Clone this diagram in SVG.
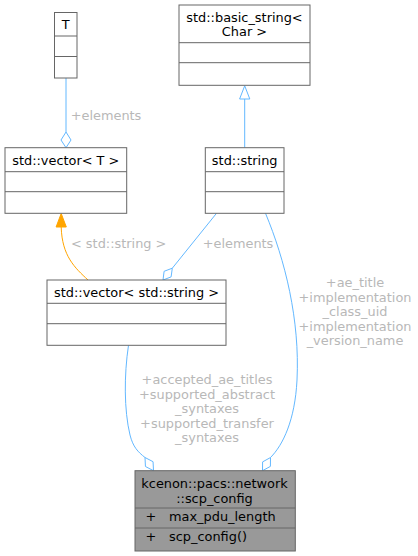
<svg xmlns="http://www.w3.org/2000/svg" width="418" height="556" viewBox="0 0 418 556">
<style>
text{font-family:"DejaVu Sans",sans-serif;font-size:12.9px;fill:#000}
.box{fill:#fff;stroke:#666;stroke-width:1}
.hl{fill:#999;stroke:#666;stroke-width:1}
.div{stroke:#666;stroke-width:1}
.c{text-anchor:middle}
.e{fill:none;stroke:#63b8ff;stroke-width:1}
.o{fill:none;stroke:#ffa500;stroke-width:1}
.lbl{fill:#b8b8b8;text-anchor:middle}
.dm{fill:#fff;stroke:#63b8ff;stroke-width:1}
</style>
<g id="connectors">
  <path class="e" d="M66,78 L66,132"/>
  <polygon class="dm" points="66,147.7 71,140 66,132 61,140"/>
  <text class="lbl" x="106" y="120.4">+elements</text>

  <path class="e" d="M244.7,99 L244.7,147.7"/>
  <polygon class="dm" points="244.7,85.8 249.8,99 239.6,99"/>

  <path class="o" d="M88,280 C75,268 62,256 61.2,227"/>
  <polygon fill="#ffa500" stroke="#ffa500" points="61.2,213.5 66.3,227 56.1,227"/>
  <text class="lbl" x="118.7" y="248">&lt; std::string &gt;</text>

  <path class="e" d="M216.5,213.3 L172.3,268.2"/>
  <polygon class="dm" points="163,280 164.1,271.3 172.3,268.2 171.1,276.9"/>
  <text class="lbl" x="238" y="248">+elements</text>

  <path class="e" d="M265.5,213.3 C285,260 300,320 297,380 C295,420 283,445 270.5,457.5"/>
  <polygon class="dm" points="262.5,470.7 262.6,461.9 270.5,457.5 270.4,466.4"/>
  <text class="lbl" x="355" y="287">+ae_title</text>
  <text class="lbl" x="355" y="301.6">+implementation</text>
  <text class="lbl" x="355" y="316.2">_class_uid</text>
  <text class="lbl" x="355" y="330.8">+implementation</text>
  <text class="lbl" x="355" y="345.4">_version_name</text>

  <path class="e" d="M128.5,345.3 C124,375 124,410 130,435 C133,447 138,452 145,457.5"/>
  <polygon class="dm" points="153.5,470.7 145.45,466.5 145,457.5 153.05,461.7"/>
  <text class="lbl" x="207" y="384">+accepted_ae_titles</text>
  <text class="lbl" x="207" y="398.6">+supported_abstract</text>
  <text class="lbl" x="207" y="413.2">_syntaxes</text>
  <text class="lbl" x="207" y="427.8">+supported_transfer</text>
  <text class="lbl" x="207" y="442.4">_syntaxes</text>
</g>
<g id="node_T">
  <rect class="box" x="54.5" y="12.5" width="22.5" height="65.5"/>
  <line class="div" x1="54.5" y1="36" x2="77" y2="36"/>
  <line class="div" x1="54.5" y1="56.5" x2="77" y2="56.5"/>
  <text class="c" x="65.8" y="29.3">T</text>
</g>
<g id="node_basic_string">
  <rect class="box" x="179" y="5" width="131" height="80.3"/>
  <line class="div" x1="179" y1="42.7" x2="310" y2="42.7"/>
  <line class="div" x1="179" y1="62.7" x2="310" y2="62.7"/>
  <text class="c" x="244.5" y="21.6">std::basic_string&lt;</text>
  <text class="c" x="244.5" y="36.3">Char &gt;</text>
</g>
<g id="node_vector_T">
  <rect class="box" x="5" y="147.7" width="121.7" height="65.6"/>
  <line class="div" x1="5" y1="171.7" x2="126.7" y2="171.7"/>
  <line class="div" x1="5" y1="191.7" x2="126.7" y2="191.7"/>
  <text class="c" x="65.8" y="165">std::vector&lt; T &gt;</text>
</g>
<g id="node_string">
  <rect class="box" x="205.3" y="147.7" width="78.7" height="65.6"/>
  <line class="div" x1="205.3" y1="171.7" x2="284" y2="171.7"/>
  <line class="div" x1="205.3" y1="191.7" x2="284" y2="191.7"/>
  <text class="c" x="244.7" y="165">std::string</text>
</g>
<g id="node_vector_string">
  <rect class="box" x="47" y="280" width="179" height="65.3"/>
  <line class="div" x1="47" y1="303.3" x2="226" y2="303.3"/>
  <line class="div" x1="47" y1="323.7" x2="226" y2="323.7"/>
  <text class="c" x="136.5" y="296.7">std::vector&lt; std::string &gt;</text>
</g>
<g id="node_scp_config">
  <rect class="hl" x="135" y="470.7" width="160.3" height="80.3"/>
  <line class="div" x1="135" y1="508" x2="295.3" y2="508"/>
  <line class="div" x1="135" y1="528" x2="295.3" y2="528"/>
  <text class="c" x="214.5" y="488.3">kcenon::pacs::network</text>
  <text class="c" x="214.5" y="502.5">::scp_config</text>
  <text class="c" x="151" y="520.7">+</text>
  <text x="169" y="520.7">max_pdu_length</text>
  <text class="c" x="151" y="540.7">+</text>
  <text x="169" y="540.7">scp_config()</text>
</g>
</svg>
